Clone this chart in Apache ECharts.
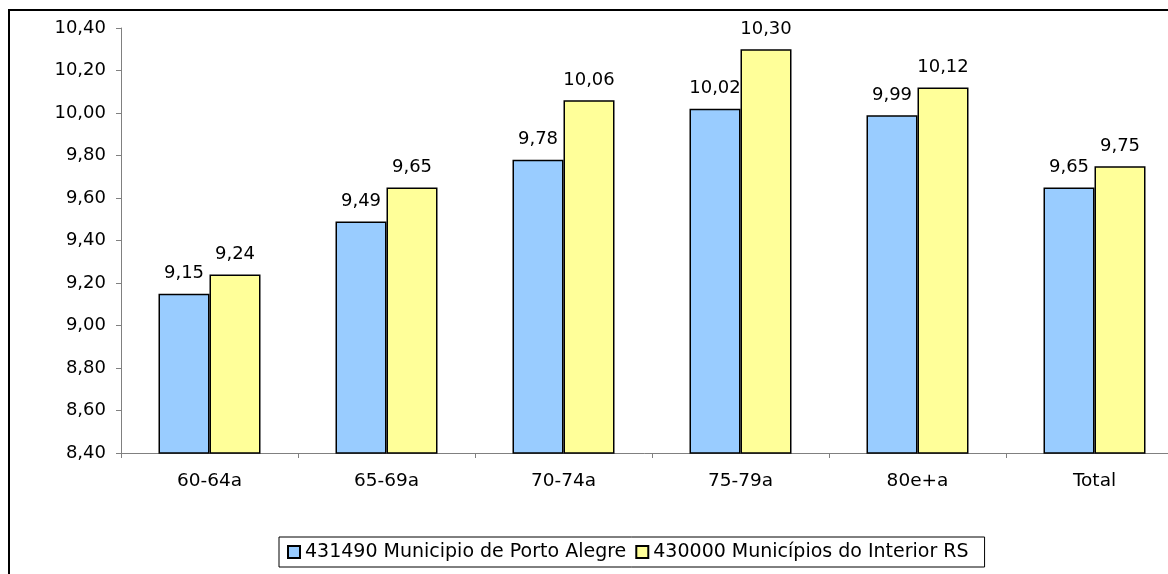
<!DOCTYPE html>
<html><head><meta charset="utf-8">
<script src="https://cdn.jsdelivr.net/npm/echarts@6/dist/echarts.min.js"></script>
<style>html,body{margin:0;padding:0;background:#fff}#c{width:1168px;height:574px}</style>
</head><body><div id="c"></div>
<script>
const categories = ['60-64a', '65-69a', '70-74a', '75-79a', '80e+a', 'Total'];
const portoAlegre = [9.15, 9.49, 9.78, 10.02, 9.99, 9.65];
const interior = [9.24, 9.65, 10.06, 10.30, 10.12, 9.75];
const seriesNames = ['431490 Municipio de Porto Alegre', '430000 Municípios do Interior RS'];

const fmt = v => v.toFixed(2).replace('.', ',');
const font = 'DejaVu Sans, Liberation Sans, sans-serif';
const chart = echarts.init(document.getElementById('c'));
const lbl = {show: true, position: 'top', distance: 11, color: '#000', fontFamily: font, fontSize: 18,
  formatter: p => fmt(p.value)};
chart.setOption({
  animation: false,
  backgroundColor: '#fff',
  graphic: [{type: 'rect', shape: {x: 9, y: 10, width: 1200, height: 600},
    style: {fill: 'none', stroke: '#000', lineWidth: 2}, z: 100}],
  grid: {left: 121, top: 28, width: 1062, height: 425, outerBoundsMode: 'none', containLabel: false},
  legend: {
    data: seriesNames, left: 279, top: 537,
    padding: [5, 16, 5, 8], borderColor: '#000', borderWidth: 1,
    itemWidth: 12, itemHeight: 12, itemGap: 9, icon: 'rect',
    textStyle: {fontFamily: font, fontSize: 19, color: '#000', lineHeight: 20}
  },
  xAxis: {
    type: 'category', data: categories,
    axisLine: {lineStyle: {color: '#808080', width: 1}},
    axisTick: {show: true, length: 5, lineStyle: {color: '#808080'}},
    axisLabel: {color: '#000', fontFamily: font, fontSize: 18.5, margin: 19}
  },
  yAxis: {
    type: 'value', min: 8.4, max: 10.4, interval: 0.2,
    axisLine: {show: true, lineStyle: {color: '#808080', width: 1}},
    axisTick: {show: true, length: 5, lineStyle: {color: '#808080'}},
    splitLine: {show: false},
    axisLabel: {color: '#000', fontFamily: font, fontSize: 18, margin: 15, formatter: v => fmt(v)}
  },
  series: [
    {name: seriesNames[0], type: 'bar', data: portoAlegre, barWidth: 51, barGap: '0%',
      itemStyle: {color: '#99CCFF', borderColor: '#000', borderWidth: 1.5}, label: lbl},
    {name: seriesNames[1], type: 'bar', data: interior, barWidth: 51,
      itemStyle: {color: '#FFFF99', borderColor: '#000', borderWidth: 1.5}, label: lbl}
  ]
});
</script></body></html>
